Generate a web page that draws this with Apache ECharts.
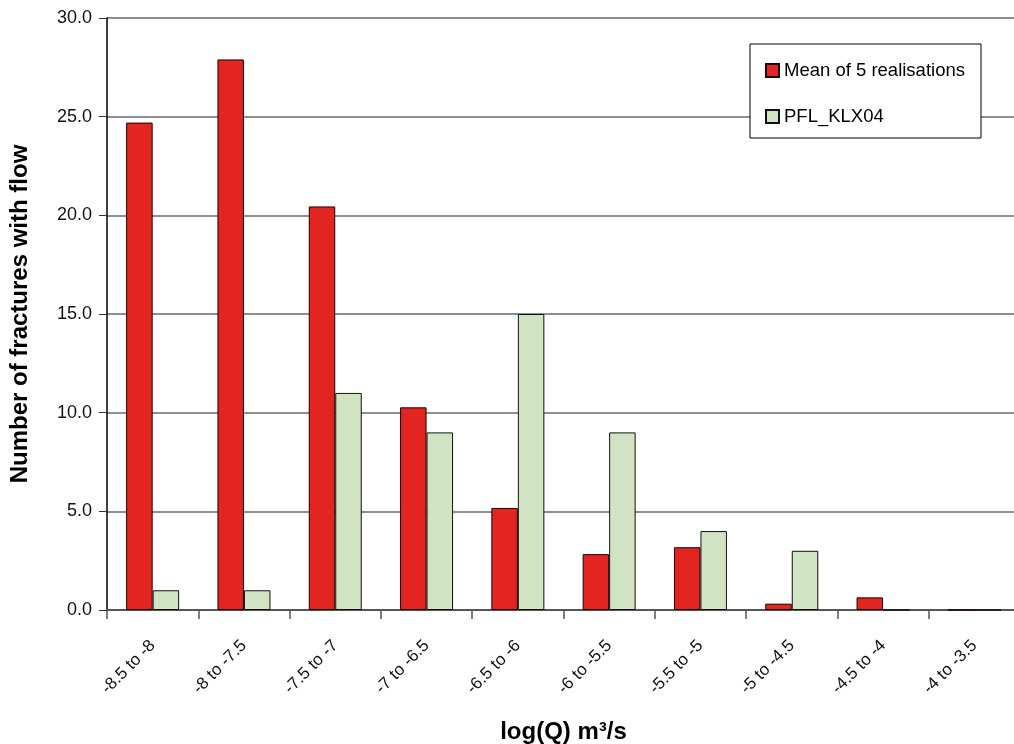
<!DOCTYPE html>
<html>
<head>
<meta charset="utf-8">
<script src="https://cdn.jsdelivr.net/npm/echarts@6/dist/echarts.min.js"></script>
<style>html,body{margin:0;padding:0;background:#fff}#c{width:1014px;height:744px}</style>
</head>
<body>
<div id="c"></div>
<script>
const categories = ['-8.5 to -8','-8 to -7.5','-7.5 to -7','-7 to -6.5','-6.5 to -6','-6 to -5.5','-5.5 to -5','-5 to -4.5','-4.5 to -4','-4 to -3.5'];
const meanRealisations = [24.7, 27.9, 20.45, 10.27, 5.17, 2.83, 3.18, 0.32, 0.64, 0];
const pflKLX04 = [1, 1, 11, 9, 15, 9, 4, 3, 0, 0];
const yTicks = [0, 5, 10, 15, 20, 25, 30];

const chart = echarts.init(document.getElementById('c'), null, {renderer: 'canvas'});
const font = '"Liberation Sans", Arial, sans-serif';
chart.setOption({
  animation: false,
  backgroundColor: '#fff',
  textStyle: {fontFamily: font},
  grid: {left: 107, top: 18, width: 913, height: 592, containLabel: false, outerBoundsMode: 'none'},
  legend: {
    orient: 'vertical',
    left: 750, top: 44,
    padding: [17, 16, 12, 15],
    itemGap: 27,
    itemWidth: 13, itemHeight: 13,
    icon: 'rect',
    borderColor: '#000', borderWidth: 1,
    backgroundColor: '#fff',
    textStyle: {fontSize: 18.5, color: '#000', fontFamily: font},
    data: ['Mean of 5 realisations', 'PFL_KLX04']
  },
  xAxis: {
    type: 'category',
    data: categories,
    name: 'log(Q) m³/s',
    nameLocation: 'middle',
    nameGap: 110,
    nameTextStyle: {fontSize: 24, fontWeight: 'bold', color: '#000', fontFamily: font},
    axisLine: {lineStyle: {color: '#555', width: 2}},
    axisTick: {show: true, length: 9, lineStyle: {color: '#555', width: 1.5}},
    axisLabel: {rotate: 45, fontSize: 17, color: '#111', margin: 33, interval: 0,
      verticalAlign: 'middle', fontFamily: font},
    splitLine: {show: false}
  },
  yAxis: {
    type: 'value',
    min: yTicks[0], max: yTicks[yTicks.length - 1], interval: 5,
    name: 'Number of fractures with flow',
    nameLocation: 'middle',
    nameGap: 75,
    nameTextStyle: {fontSize: 24, fontWeight: 'bold', color: '#000', fontFamily: font},
    axisLine: {show: true, lineStyle: {color: '#000', width: 1.5}},
    axisTick: {show: true, length: 8, lineStyle: {color: '#333', width: 1}},
    axisLabel: {fontSize: 18, color: '#111', margin: 15, formatter: v => v.toFixed(1), fontFamily: font},
    splitLine: {show: true, lineStyle: {color: '#6a6a6a', width: 1.5}}
  },
  series: [
    {
      name: 'Mean of 5 realisations',
      type: 'bar',
      data: meanRealisations,
      barWidth: 26.5,
      barGap: '0%',
      itemStyle: {color: '#e32522', borderColor: '#1a0000', borderWidth: 1}
    },
    {
      name: 'PFL_KLX04',
      type: 'bar',
      data: pflKLX04,
      barWidth: 26.5,
      barGap: '0%',
      itemStyle: {color: '#d0e4c4', borderColor: '#111', borderWidth: 1}
    }
  ]
});
</script>
</body>
</html>
